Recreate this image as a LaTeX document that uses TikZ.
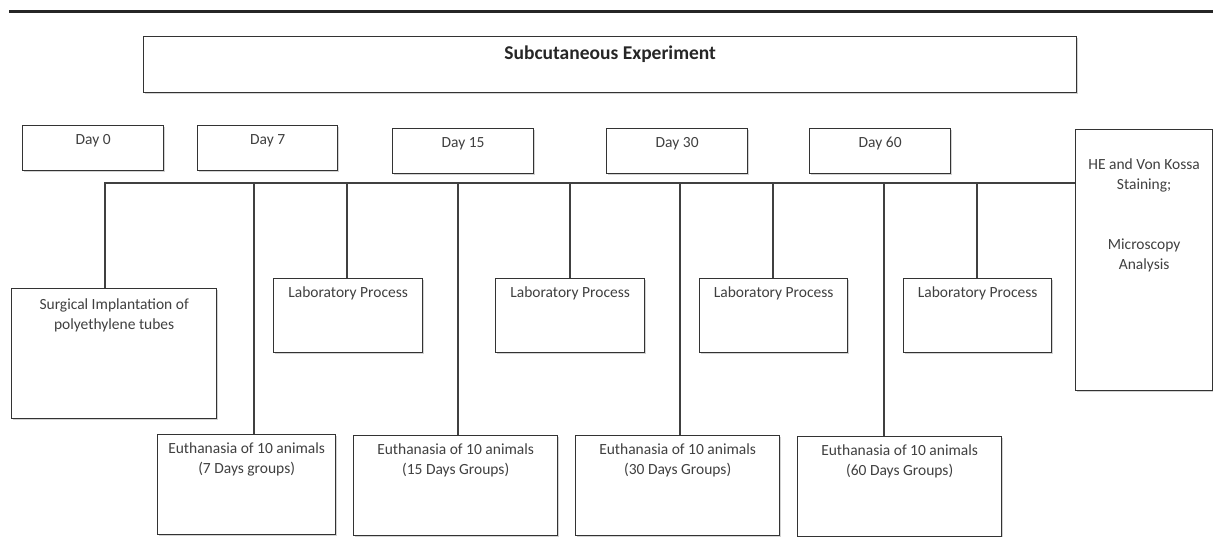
\documentclass[tikz,border=0pt]{standalone}
\usepackage{fontspec}
\setmainfont{Carlito}
\usetikzlibrary{shadows}

\begin{document}
\begin{tikzpicture}[x=1pt, y=-1pt,
    box/.style={rectangle, draw=black!80, line width=1.3pt, fill=white, anchor=north west, inner sep=0pt,
        drop shadow={shadow xshift=1.5pt, shadow yshift=-1.5pt, opacity=0.35}},
    boxtext/.style={anchor=north, align=center, inner sep=0pt, yshift=-9pt, text=black!75,
        font=\fontsize{15.5}{20}\selectfont},
    link/.style={draw=black!75, line width=1.5pt}
]
\useasboundingbox (0,0) rectangle (1213,537);

% Top rule
\draw[black!85, line width=3pt] (9,12) -- (1213,12);

% Title
\node[box, minimum width=933pt, minimum height=56pt,
    label={[boxtext, yshift=-1pt, font=\fontsize{19.5}{22}\selectfont\bfseries, text=black!85]north:Subcutaneous Experiment}]
    (title) at (143,36) {};

% Days
\node[box, minimum width=141pt, minimum height=45pt, label={[boxtext]north:Day 0}] (day0) at (22,125) {};
\node[box, minimum width=140pt, minimum height=45pt, label={[boxtext]north:Day 7}] (day7) at (197,125) {};
\node[box, minimum width=141pt, minimum height=45pt, label={[boxtext]north:Day 15}] (day15) at (392,128) {};
\node[box, minimum width=141pt, minimum height=45pt, label={[boxtext]north:Day 30}] (day30) at (606,128) {};
\node[box, minimum width=141pt, minimum height=45pt, label={[boxtext]north:Day 60}] (day60) at (809,128) {};

% Staining and microscopy
\node[box, minimum width=137pt, minimum height=261pt,
    label={[boxtext, yshift=-21pt]north:{HE and Von Kossa\\Staining;\\[40pt]Microscopy\\Analysis}}]
    (stain) at (1075,129) {};

% Surgery
\node[box, minimum width=205pt, minimum height=130pt,
    label={[boxtext, yshift=-2pt]north:{Surgical Implantation of\\polyethylene tubes}}]
    (surgery) at (11,288) {};

% Laboratory process
\node[box, minimum width=149pt, minimum height=74pt, label={[boxtext]north:Laboratory Process}] (lab1) at (273,278) {};
\node[box, minimum width=149pt, minimum height=74pt, label={[boxtext]north:Laboratory Process}] (lab2) at (495,278) {};
\node[box, minimum width=148pt, minimum height=74pt, label={[boxtext]north:Laboratory Process}] (lab3) at (699,278) {};
\node[box, minimum width=148pt, minimum height=74pt, label={[boxtext]north:Laboratory Process}] (lab4) at (903,278) {};

% Euthanasia
\node[box, minimum width=178pt, minimum height=100pt,
    label={[boxtext]north:{Euthanasia of 10 animals\\(7 Days groups)}}] (euth7) at (157,434) {};
\node[box, minimum width=204pt, minimum height=100pt,
    label={[boxtext]north:{Euthanasia of 10 animals\\(15 Days Groups)}}] (euth15) at (353,435) {};
\node[box, minimum width=204pt, minimum height=100pt,
    label={[boxtext]north:{Euthanasia of 10 animals\\(30 Days Groups)}}] (euth30) at (575,435) {};
\node[box, minimum width=204pt, minimum height=100pt,
    label={[boxtext]north:{Euthanasia of 10 animals\\(60 Days Groups)}}] (euth60) at (797,436) {};

% Timeline
\coordinate (t0) at (105,183);
\coordinate (t7) at (254,183);
\coordinate (l1) at (347,183);
\coordinate (t15) at (458,183);
\coordinate (l2) at (570,183);
\coordinate (t30) at (680,183);
\coordinate (l3) at (773,183);
\coordinate (t60) at (884,183);
\coordinate (l4) at (977,183);

\draw[link] (t0 |- surgery.north) -- (t0) -- (t0 -| stain.west);
\draw[link] (t7) -- (t7 |- euth7.north);
\draw[link] (l1) -- (l1 |- lab1.north);
\draw[link] (t15) -- (t15 |- euth15.north);
\draw[link] (l2) -- (l2 |- lab2.north);
\draw[link] (t30) -- (t30 |- euth30.north);
\draw[link] (l3) -- (l3 |- lab3.north);
\draw[link] (t60) -- (t60 |- euth60.north);
\draw[link] (l4) -- (l4 |- lab4.north);

\end{tikzpicture}
\end{document}
